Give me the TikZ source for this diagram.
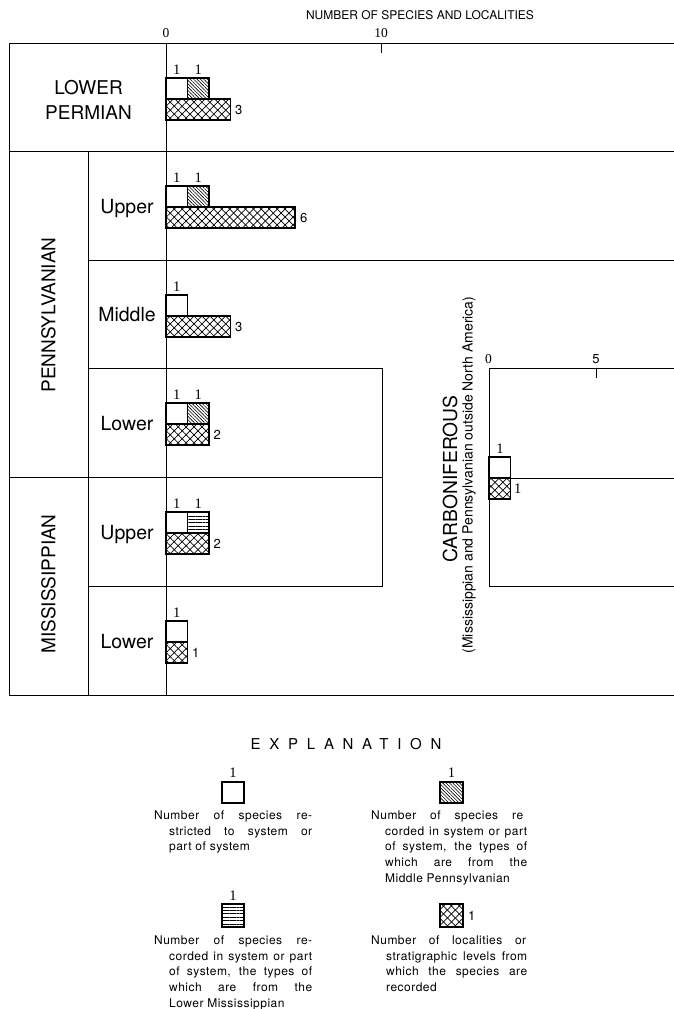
\documentclass[tikz,border=0pt]{standalone}
\usepackage{fontspec}
\setmainfont{TeX Gyre Heros}
\newfontfamily\chiffre{Liberation Serif}
\newfontfamily\espace[LetterSpace=58]{TeX Gyre Heros}
\newfontfamily\texte[LetterSpace=4]{TeX Gyre Heros}
\usetikzlibrary{patterns.meta}
\newcommand{\ligne}[2]{\makebox[#1][s]{#2}}

\begin{document}
\begin{tikzpicture}[x=1pt,y=-1pt]
% Styles
 \tikzstyle{cadre}=[line width=0.9pt]
 \tikzstyle{vide}=[draw,fill=white,line width=1.2pt]
 \tikzstyle{oblique}=[fill=white,postaction={pattern={Lines[angle=-45,distance=2.4pt,line width=0.6pt]}},postaction={draw,line width=1.2pt}]
 \tikzstyle{rayure}=[fill=white,postaction={pattern={Lines[angle=0,distance=3.4pt,line width=0.7pt]}},postaction={draw,line width=1.2pt}]
 \tikzstyle{quadrille}=[fill=white,postaction={pattern={Lines[angle=45,distance=5.6pt,line width=0.7pt]}},postaction={pattern={Lines[angle=-45,distance=5.6pt,line width=0.7pt]}},postaction={draw,line width=1.2pt}]
 \tikzstyle{un}=[font=\chiffre\fontsize{14.5}{14.5}\selectfont,inner sep=0pt]
 \tikzstyle{total}=[font=\fontsize{13}{13}\selectfont,inner sep=0pt,anchor=west]
 \tikzstyle{epoque}=[font=\fontsize{19}{25}\selectfont,align=center,inner sep=0pt]
 \tikzstyle{serie}=[font=\fontsize{19.5}{24}\selectfont,anchor=base,inner sep=0pt]
 \tikzstyle{legende}=[font=\texte\fontsize{12}{15.7}\selectfont,align=left,anchor=north west,inner sep=0pt]
 \useasboundingbox (0,0) rectangle (674,1009);
% Titre et echelle
 \node[font=\fontsize{12}{12}\selectfont] (titre) at (420,15) {NUMBER OF SPECIES AND LOCALITIES};
 \node[un,font=\chiffre\fontsize{13.5}{13.5}\selectfont] (zero) at (166,33) {0};
 \node[un,font=\chiffre\fontsize{13.5}{13.5}\selectfont] (dix) at (381,33) {10};
 \draw[cadre] (381,43) -- (381,53);
% Cadre
 \draw[cadre] (9,43) -- (674,43);
 \draw[cadre] (674,695) -- (9,695) -- (9,43);
 \draw[cadre] (88,151) -- (88,695);
 \draw[cadre] (166,43) -- (166,695);
 \draw[cadre] (9,151) -- (674,151);
 \draw[cadre] (88,260) -- (674,260);
 \draw[cadre] (88,368) -- (382,368) -- (382,586) -- (88,586);
 \draw[cadre] (9,477) -- (382,477);
% Etages
 \node[epoque] (permien) at (88.5,99.5) {LOWER\\PERMIAN};
 \node[epoque,rotate=90] (penn) at (48.5,315) {PENNSYLVANIAN};
 \node[epoque,rotate=90] (miss) at (48.5,584) {MISSISSIPPIAN};
 \node[serie] (pennsup) at (127,213) {Upper};
 \node[serie] (pennmoy) at (127,321.5) {Middle};
 \node[serie] (penninf) at (127,430) {Lower};
 \node[serie] (misssup) at (127,539) {Upper};
 \node[serie] (missinf) at (127,648) {Lower};
% Lower Permian
 \draw[vide] (166,78) rectangle (187.5,99);
 \draw[oblique] (187.5,78) rectangle (209,99);
 \draw[quadrille] (166,99) rectangle (230.5,120);
 \node[un] (lp1) at (176.75,70) {1};
 \node[un] (lp2) at (198.25,70) {1};
 \node[total] (lp3) at (235,109.5) {3};
% Upper Pennsylvanian
 \draw[vide] (166,186) rectangle (187.5,207);
 \draw[oblique] (187.5,186) rectangle (209,207);
 \draw[quadrille] (166,207) rectangle (295,228);
 \node[un] (up1) at (176.75,178) {1};
 \node[un] (up2) at (198.25,178) {1};
 \node[total] (up3) at (300,217.5) {6};
% Middle Pennsylvanian
 \draw[vide] (166,295) rectangle (187.5,316);
 \draw[quadrille] (166,316) rectangle (230.5,337);
 \node[un] (mp1) at (176.75,287) {1};
 \node[total] (mp3) at (235,326.5) {3};
% Lower Pennsylvanian
 \draw[vide] (166,403) rectangle (187.5,424);
 \draw[oblique] (187.5,403) rectangle (209,424);
 \draw[quadrille] (166,424) rectangle (209,445);
 \node[un] (lpn1) at (176.75,395) {1};
 \node[un] (lpn2) at (198.25,395) {1};
 \node[total] (lpn3) at (213.5,434.5) {2};
% Upper Mississippian
 \draw[vide] (166,512) rectangle (187.5,533);
 \draw[rayure] (187.5,512) rectangle (209,533);
 \draw[quadrille] (166,533) rectangle (209,554);
 \node[un] (um1) at (176.75,504) {1};
 \node[un] (um2) at (198.25,504) {1};
 \node[total] (um3) at (213.5,543.5) {2};
% Lower Mississippian
 \draw[vide] (166,621) rectangle (187.5,642);
 \draw[quadrille] (166,642) rectangle (187.5,663);
 \node[un] (lm1) at (176.75,613) {1};
 \node[total] (lm3) at (192,652.5) {1};
% Carboniferous
 \node[font=\fontsize{19.3}{20}\selectfont,rotate=90,inner sep=0pt] (carbo) at (450,479) {CARBONIFEROUS};
 \node[font=\fontsize{14}{14}\selectfont,rotate=90,inner sep=0pt] (carbosous) at (469,475) {(Mississippian and Pennsylvanian outside North America)};
 \draw[cadre] (674,368) -- (489,368) -- (489,586) -- (674,586);
 \draw[cadre] (489,478) -- (674,478);
 \draw[cadre] (596,368) -- (596,378);
 \node[un,font=\chiffre\fontsize{13.5}{13.5}\selectfont] (czero) at (488.5,359) {0};
 \node[un,font=\fontsize{13}{13}\selectfont] (ccinq) at (596,359) {5};
 \draw[vide] (489,457) rectangle (510.5,478);
 \draw[quadrille] (489,478) rectangle (510.5,499);
 \node[un] (c1) at (500,449) {1};
 \node[un,anchor=west] (c2) at (514,489) {1};
% Explication
 \node[font=\espace\fontsize{15}{15}\selectfont] (explication) at (346,744) {EXPLANATION};
 \draw[vide] (222,782) rectangle (244,803);
 \node[un] (leg1) at (233,773) {1};
 \node[legende] (legtxt1) at (154,810.5) {\ligne{158pt}{Number of species re-}\\
   \hspace*{15pt}\ligne{143pt}{stricted to system or}\\
   \hspace*{15pt}part of system};
 \draw[oblique] (440,782) rectangle (463,803);
 \node[un] (leg2) at (451.5,773) {1};
 \node[legende] (legtxt2) at (371,810.5) {\ligne{152pt}{Number of species re}\\
   \hspace*{14pt}\ligne{142pt}{corded in system or part}\\
   \hspace*{14pt}\ligne{142pt}{of system, the types of}\\
   \hspace*{14pt}\ligne{142pt}{which are from the}\\
   \hspace*{14pt}Middle Pennsylvanian};
 \draw[rayure] (222,904) rectangle (244,927);
 \node[un] (leg3) at (233,896) {1};
 \node[legende] (legtxt3) at (154,935.5) {\ligne{158pt}{Number of species re-}\\
   \hspace*{15pt}\ligne{143pt}{corded in system or part}\\
   \hspace*{15pt}\ligne{143pt}{of system, the types of}\\
   \hspace*{15pt}\ligne{143pt}{which are from the}\\
   \hspace*{15pt}Lower Mississippian};
 \draw[quadrille] (440,904) rectangle (463,927);
 \node[total] (leg4) at (468,916) {1};
 \node[legende] (legtxt4) at (371,935.5) {\ligne{155pt}{Number of localities or}\\
   \hspace*{15pt}\ligne{141pt}{stratigraphic levels from}\\
   \hspace*{15pt}\ligne{141pt}{which the species are}\\
   \hspace*{15pt}recorded};
\end{tikzpicture}
\end{document}
